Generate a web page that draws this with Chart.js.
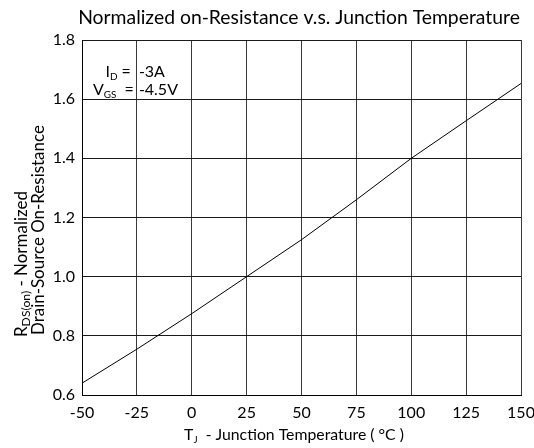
<!DOCTYPE html>
<html>
<head>
<meta charset="utf-8">
<script src="https://cdn.jsdelivr.net/npm/chart.js@4/dist/chart.umd.min.js"></script>
<style>
html,body{margin:0;padding:0;background:#fff;}
#wrap{width:534px;height:448px;}
</style>
</head>
<body>
<div id="wrap"><canvas id="c" width="534" height="448"></canvas></div>
<script>
// Data
const temperatures = [-50, -25, 0, 25, 50, 75, 100, 125, 150];
const rdsNormalized = [0.64, 0.755, 0.875, 1.0, 1.125, 1.26, 1.40, 1.527, 1.653];
const xTicks = [-50, -25, 0, 25, 50, 75, 100, 125, 150];
const yTicks = [0.6, 0.8, 1.0, 1.2, 1.4, 1.6, 1.8];
const chartTitle = 'Normalized on-Resistance v.s. Junction Temperature';
const conditions = [['I', 'D', ' =', '-3A'], ['V', 'GS', '  =', '-4.5V']];

const FONT = 'Lato, "Open Sans", sans-serif';
let SUB = 0.62;

function partsWidth(ctx, parts, size) {
  let total = 0;
  parts.forEach(p => { ctx.font = (p[1] ? size * SUB : size) + 'px ' + FONT; total += ctx.measureText(p[0]).width; });
  return total;
}
function fitSize(ctx, parts, target, maxSize) {
  const w = partsWidth(ctx, parts, 20);
  return Math.min(maxSize, 20 * target / w);
}
function drawSub(ctx, parts, x, y, size, align) {
  ctx.save();
  const total = partsWidth(ctx, parts, size);
  let cx = align === 'center' ? x - total / 2 : (align === 'right' ? x - total : x);
  ctx.textAlign = 'left';
  ctx.textBaseline = 'alphabetic';
  parts.forEach(p => {
    ctx.font = (p[1] ? size * SUB : size) + 'px ' + FONT;
    ctx.fillText(p[0], cx, p[1] ? y + size * 0.18 : y);
    cx += ctx.measureText(p[0]).width;
  });
  ctx.restore();
}

const textPlugin = {
  id: 'texts',
  afterDraw(chart) {
    const ctx = chart.ctx;
    const xs = chart.scales.x;
    ctx.save();
    ctx.fillStyle = '#000';
    // Title (fit to reference width)
    const tParts = [[chartTitle, false]];
    drawSub(ctx, tParts, 299, 24, fitSize(ctx, tParts, 442, 24), 'center');
    // X axis title
    const xParts = [['T', false], ['J', true], ['  - Junction Temperature ( °C )', false]];
    drawSub(ctx, xParts, 294, 440, fitSize(ctx, xParts, 220, 24), 'center');
    // Y axis title (rotated), two lines starting near the bottom
    const y1Parts = [['R', false], ['DS(on)', true], [' - Normalized', false]];
    const y2Parts = [['Drain-Source On-Resistance', false]];
    const ySize = fitSize(ctx, y2Parts, 210, 24);
    ctx.save();
    ctx.translate(44, 335);
    ctx.rotate(-Math.PI / 2);
    drawSub(ctx, y2Parts, 0, 0, ySize, 'left');
    ctx.restore();
    ctx.save();
    ctx.translate(27, 337);
    ctx.rotate(-Math.PI / 2);
    SUB = 0.72;
    drawSub(ctx, y1Parts, 0, 0, ySize, 'left');
    SUB = 0.62;
    ctx.restore();
    // Conditions annotation, anchored at the -25 °C gridline
    const xEq = xs.getPixelForValue(-25);
    const y1 = 77, y2 = 95;
    [y1, y2].forEach((yy, i) => {
      const c = conditions[i];
      drawSub(ctx, [[c[0], false], [c[1], true], [c[2], false]], xEq - 3 + (i ? 0 : -3), yy, 16, 'right');
      drawSub(ctx, [[c[3], false]], xEq + 2, yy, 16, 'left');
    });
    ctx.restore();
  }
};

new Chart(document.getElementById('c'), {
  type: 'scatter',
  data: {
    datasets: [{
      data: temperatures.map((t, i) => ({ x: t, y: rdsNormalized[i] })),
      showLine: true,
      borderColor: '#000',
      borderWidth: 1,
      pointRadius: 0,
      tension: 0,
      fill: false
    }]
  },
  options: {
    responsive: false,
    animation: false,
    devicePixelRatio: 1,
    layout: { padding: { left: 0, right: 13, top: 40, bottom: 0 } },
    plugins: { legend: { display: false }, tooltip: { enabled: false }, title: { display: false } },
    scales: {
      x: {
        type: 'linear',
        min: xTicks[0], max: xTicks[xTicks.length - 1],
        afterBuildTicks(s) { s.ticks = xTicks.map(v => ({ value: v })); },
        afterFit(s) { s.height = 53; s.paddingLeft = 0; s.paddingRight = 0; },
        grid: { color: '#3a3a3a', lineWidth: 1, drawTicks: false },
        border: { color: '#000', width: 1 },
        ticks: { color: '#000', font: { family: FONT, size: 16 }, padding: 8, maxRotation: 0, autoSkip: false,
                 callback: v => String(v) }
      },
      y: {
        type: 'linear',
        min: yTicks[0], max: yTicks[yTicks.length - 1],
        afterBuildTicks(s) { s.ticks = yTicks.map(v => ({ value: v })); },
        afterFit(s) { s.width = 82; s.paddingTop = 0; s.paddingBottom = 0; },
        grid: { color: '#1a1a1a', lineWidth: 1, drawTicks: false },
        border: { color: '#000', width: 1 },
        ticks: { color: '#000', font: { family: FONT, size: 16 }, padding: 7, autoSkip: false,
                 callback: v => Number(v).toFixed(1) }
      }
    }
  },
  plugins: [textPlugin]
});
</script>
</body>
</html>
